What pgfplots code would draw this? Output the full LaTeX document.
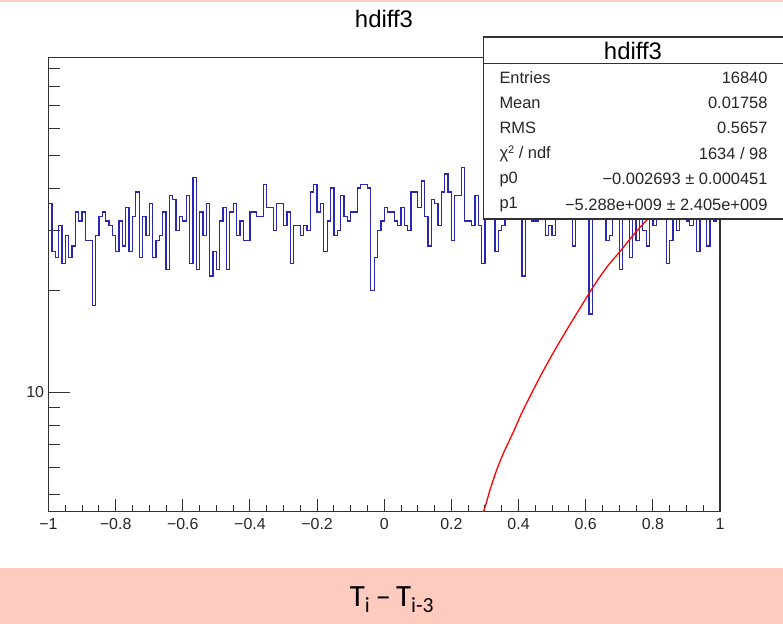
\documentclass[border=0pt]{standalone}
\usepackage{pgfplots}
\pgfplotsset{compat=1.18}
\usepackage{fontspec}
\setmainfont{Liberation Sans}
\newfontfamily\calib{Carlito}
\definecolor{pinkband}{RGB}{255,203,191}
\definecolor{histblue}{RGB}{40,40,180}
\definecolor{framegray}{RGB}{50,50,50}
\begin{document}
\begin{tikzpicture}[x=1bp,y=1bp]
\path[use as bounding box] (0,0) rectangle (783,624);
\fill[pinkband] (0,0) rectangle (783,56);
\fill[pinkband] (0,621.5) rectangle (783,624);
\begin{axis}[
  at={(48.5bp,112.3bp)}, anchor=south west,
  scale only axis, width=671.5bp, height=454.4bp,
  xmin=-1, xmax=1, ymode=log, ymin=4.44, ymax=97.3,
  axis line style={line width=1.1bp, framegray},
  tick align=inside, tick pos=left,
  xtick={-1,-0.8,-0.6,-0.4,-0.2,0,0.2,0.4,0.6,0.8,1},
  xticklabels={−1,−0.8,−0.6,−0.4,−0.2,0,0.2,0.4,0.6,0.8,1},
  minor x tick num=3,
  ytick={10}, yticklabels={10},
  minor ytick={5,6,7,8,9,20,30,40,50,60,70,80,90},
  xtick style={/pgfplots/major tick length=13bp, /pgfplots/minor tick length=6.5bp, line width=1bp, framegray},
  ytick style={/pgfplots/major tick length=21bp, /pgfplots/minor tick length=11bp, line width=1bp, framegray},
  ticklabel style={font=\fontsize{16}{19}\selectfont, text=black!85},
  xticklabel style={yshift=-3bp},
  yticklabel style={xshift=-1bp},
  /pgf/number format/assume math mode=true,
]
\addplot[const plot, histblue, line width=1.3bp] coordinates {
(-1,36)(-0.99,26)(-0.98,25)(-0.97,31)(-0.96,24)(-0.95,29)(-0.94,25)(-0.93,27)(-0.92,34)(-0.91,32)
(-0.90,34)(-0.89,28)(-0.88,28)(-0.87,18)(-0.86,29)(-0.85,33)(-0.84,34)(-0.83,32)(-0.82,31)(-0.81,29)
(-0.80,26)(-0.79,32)(-0.78,27)(-0.77,35)(-0.76,26)(-0.75,33)(-0.74,39)(-0.73,25)(-0.72,33)(-0.71,29)
(-0.70,36)(-0.69,25)(-0.68,28)(-0.67,29)(-0.66,34)(-0.65,23)(-0.64,38)(-0.63,37)(-0.62,30)(-0.61,33)
(-0.60,32)(-0.59,38)(-0.58,24)(-0.57,43)(-0.56,23)(-0.55,34)(-0.54,29)(-0.53,36)(-0.52,22)(-0.51,26)
(-0.50,23)(-0.49,32)(-0.48,35)(-0.47,23)(-0.46,34)(-0.45,36)(-0.44,29)(-0.43,32)(-0.42,28)(-0.41,28)
(-0.40,34)(-0.39,34)(-0.38,33)(-0.37,33)(-0.36,41)(-0.35,35)(-0.34,35)(-0.33,30)(-0.32,36)(-0.31,36)
(-0.30,31)(-0.29,34)(-0.28,24)(-0.27,31)(-0.26,31)(-0.25,29)(-0.24,31)(-0.23,30)(-0.22,39)(-0.21,41)
(-0.20,34)(-0.19,36)(-0.18,26)(-0.17,32)(-0.16,40)(-0.15,29)(-0.14,30)(-0.13,38)(-0.12,33)(-0.11,32)
(-0.10,34)(-0.09,34)(-0.08,40)(-0.07,41)(-0.06,41)(-0.05,40)(-0.04,20)(-0.03,25)(-0.02,30)(-0.01,32)
(0,35)(0.01,34)(0.02,34)(0.03,32)(0.04,31)(0.05,35)(0.06,31)(0.07,30)(0.08,39)(0.09,39)
(0.10,35)(0.11,42)(0.12,33)(0.13,27)(0.14,37)(0.15,36)(0.16,31)(0.17,39)(0.18,44)(0.19,39)
(0.20,28)(0.21,38)(0.22,38)(0.23,46)(0.24,32)(0.25,32)(0.26,31)(0.27,38)(0.28,31)(0.29,24)
(0.30,35)(0.31,34)(0.32,36)(0.33,26)(0.34,30)(0.35,31)(0.36,33)(0.37,36)(0.38,34)(0.39,35)
(0.40,33)(0.41,22)(0.42,34)(0.43,37)(0.44,32)(0.45,32)(0.46,35)(0.47,33)(0.48,29)(0.49,31)
(0.50,29)(0.51,34)(0.52,36)(0.53,33)(0.54,35)(0.55,34)(0.56,27)(0.57,33)(0.58,36)(0.59,34)
(0.60,35)(0.61,17)(0.62,34)(0.63,36)(0.64,33)(0.65,37)(0.66,28)(0.67,29)(0.68,34)(0.69,33)
(0.70,23)(0.71,34)(0.72,36)(0.73,25)(0.74,33)(0.75,28)(0.76,35)(0.77,30)(0.78,27)(0.79,34)
(0.80,31)(0.81,35)(0.82,33)(0.83,36)(0.84,24)(0.85,28)(0.86,34)(0.87,30)(0.88,35)(0.89,33)
(0.90,32)(0.91,31)(0.92,35)(0.93,26)(0.94,34)(0.95,33)(0.96,27)(0.97,35)(0.98,32)(0.99,34)(1,34)
};
\addplot[red, line width=1.3bp, smooth, tension=0.5] coordinates {
(0.284,4.44)(0.296,4.46)(0.315,5.15)(0.335,5.90)(0.355,6.61)(0.385,7.65)(0.414,8.87)
(0.464,11.1)(0.504,13.1)(0.544,15.3)(0.583,17.7)(0.623,20.5)(0.663,23.4)(0.702,26.0)
(0.742,29.1)(0.782,32.2)(0.82,35.0)
};
\end{axis}
% title
\node[font=\fontsize{24}{28}\selectfont] at (384,605) {hdiff3};
% stats box
\draw[draw=framegray, fill=white, line width=1.2bp] (483.5,405) rectangle (784,587);
\draw[line width=1bp, framegray] (483.5,560.7) -- (784,560.7);
\node[font=\fontsize{24}{28}\selectfont] at (633,573.5) {hdiff3};
\begin{scope}[every node/.style={font=\fontsize{16.5}{19}\selectfont, text=black!85}]
\node[anchor=west] at (496,546) {Entries};
\node[anchor=west] at (496,521) {Mean};
\node[anchor=west] at (496,496) {RMS};
\node[anchor=west] at (496,470) {χ\raisebox{0.55ex}{\fontsize{11}{12}\selectfont 2} / ndf};
\node[anchor=west] at (496,445) {p0};
\node[anchor=west] at (496,419) {p1};
\node[anchor=east] at (771,546) {16840};
\node[anchor=east] at (771,521) {0.01758};
\node[anchor=east] at (771,496) {0.5657};
\node[anchor=east] at (771,470) {1634 / 98};
\node[anchor=east] at (771,445) {−0.002693 ± 0.000451};
\node[anchor=east] at (771,419) {−5.288e+009 ± 2.405e+009};
\end{scope}
% x label band
\node[font=\calib\fontsize{31}{36}\selectfont] at (392,24) {T\textsubscript{i}\,–\,T\textsubscript{i-3}};
\end{tikzpicture}
\end{document}
